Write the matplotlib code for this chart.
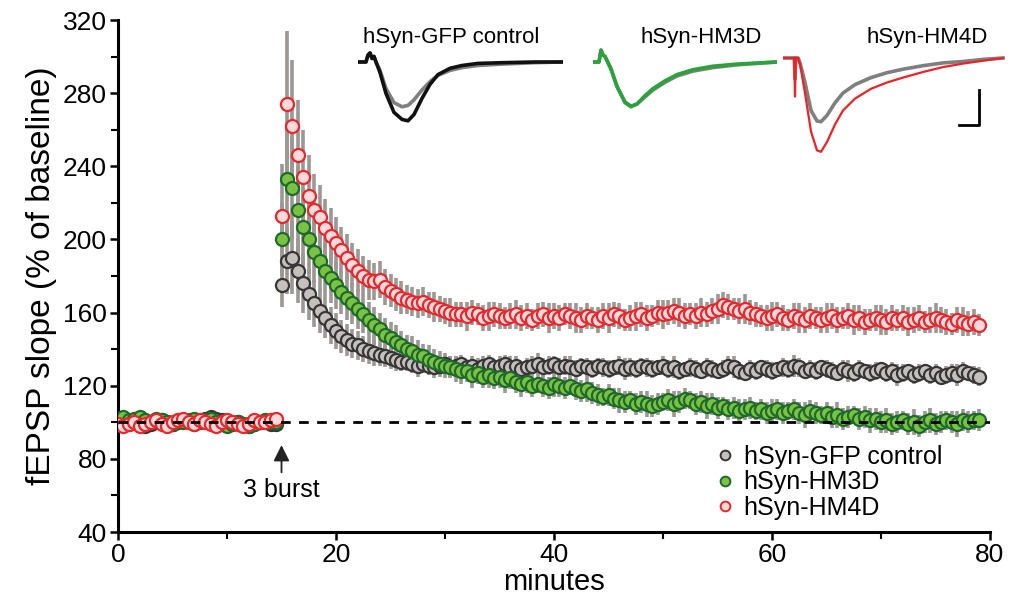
import matplotlib.pyplot as plt
import numpy as np
from matplotlib.lines import Line2D

plt.rcParams['font.family'] = ['Liberation Sans', 'DejaVu Sans']

# one sweep every 30 s, 0 - 79 min
minutes = np.arange(0, 79.5, 0.5)
baseline = 100

# hSyn-GFP control (% of baseline)
gfp_mean = [100, 101, 99, 100, 99, 98, 99, 100, 101, 100,
            99, 100, 101, 100, 99, 101, 102, 103, 102, 101,
            100, 99, 100, 99, 98, 99, 100, 100, 99, 99,
            175, 188, 190, 183, 176, 170, 165, 161, 157, 153,
            150, 147, 145, 143, 142, 140, 139, 138, 137, 136,
            135, 134, 133, 133, 132, 131, 132, 131, 130, 131,
            132, 130, 131, 132, 130, 131, 129, 131, 132, 130,
            131, 132, 130, 131, 129, 130, 131, 132, 130, 131,
            132, 130, 131, 130, 129, 131, 130, 129, 131, 130,
            129, 130, 131, 129, 130, 129, 131, 130, 129, 130,
            131, 129, 130, 128, 129, 130, 129, 128, 130, 129,
            128, 129, 131, 130, 128, 127, 129, 128, 130, 129,
            128, 129, 130, 129, 131, 130, 128, 129, 128, 130,
            129, 128, 127, 129, 128, 127, 129, 128, 127, 128,
            129, 127, 128, 126, 127, 128, 126, 127, 128, 126,
            127, 125, 126, 127, 126, 128, 127, 126, 125]
gfp_sem = [2, 2, 2, 2, 2, 2, 2, 2, 2, 2,
           2, 2, 2, 2, 2, 2, 2, 2, 2, 2,
           2, 2, 2, 2, 2, 2, 2, 2, 2, 2,
           12, 18, 20, 18, 16, 14, 13, 12, 11, 10,
           10, 9, 9, 8, 8, 7, 7, 7, 6, 6,
           6, 6, 5, 5, 5, 6, 5, 5, 6, 5,
           5, 6, 5, 5, 4, 5, 6, 5, 5, 4,
           5, 5, 6, 5, 4, 5, 5, 6, 5, 5,
           4, 5, 5, 6, 5, 4, 5, 5, 4, 5,
           5, 4, 5, 6, 5, 5, 4, 5, 5, 4,
           5, 5, 6, 5, 4, 5, 5, 4, 5, 5,
           4, 5, 5, 6, 5, 4, 5, 5, 4, 5,
           5, 4, 5, 5, 6, 5, 4, 5, 5, 4,
           5, 5, 4, 5, 6, 5, 5, 4, 5, 5,
           4, 5, 5, 6, 5, 4, 5, 5, 4, 5,
           5, 4, 5, 5, 6, 5, 4, 5, 5]

# hSyn-HM3D
hm3d_mean = [102, 103, 101, 102, 103, 101, 100, 102, 101, 100,
             99, 101, 100, 101, 102, 100, 101, 102, 100, 99,
             98, 99, 100, 99, 98, 99, 100, 101, 100, 100,
             200, 233, 228, 216, 207, 200, 193, 188, 183, 179,
             175, 171, 168, 165, 162, 159, 156, 153, 151, 148,
             146, 144, 142, 140, 139, 137, 136, 134, 133, 132,
             131, 130, 129, 128, 128, 126, 127, 125, 126, 124,
             125, 123, 124, 122, 121, 122, 120, 121, 120, 119,
             121, 120, 119, 120, 118, 117, 118, 116, 115, 114,
             115, 113, 112, 111, 112, 110, 111, 110, 109, 110,
             111, 112, 110, 111, 113, 112, 110, 111, 109, 110,
             108, 109, 107, 108, 106, 107, 108, 106, 107, 105,
             106, 107, 105, 106, 107, 105, 104, 106, 105, 104,
             105, 103, 104, 102, 103, 104, 102, 103, 101, 102,
             100, 101, 99, 100, 101, 99, 100, 98, 100, 101,
             99, 100, 101, 100, 99, 101, 100, 101, 101]
hm3d_sem = [2, 2, 2, 2, 2, 2, 2, 2, 2, 2,
            2, 2, 2, 2, 2, 2, 2, 2, 2, 2,
            2, 2, 2, 2, 2, 2, 2, 2, 2, 2,
            20, 30, 28, 24, 21, 19, 17, 16, 15, 14,
            13, 12, 12, 11, 11, 10, 10, 10, 9, 9,
            9, 9, 8, 8, 8, 8, 7, 8, 7, 7,
            7, 6, 7, 7, 6, 7, 6, 6, 7, 6,
            6, 7, 6, 6, 7, 6, 6, 5, 6, 6,
            7, 6, 6, 5, 6, 6, 7, 6, 6, 5,
            6, 6, 7, 6, 5, 6, 6, 7, 6, 6,
            5, 6, 7, 6, 6, 5, 6, 6, 7, 6,
            6, 5, 6, 6, 7, 6, 6, 5, 6, 6,
            7, 6, 6, 5, 6, 6, 7, 6, 6, 5,
            6, 6, 7, 6, 6, 5, 6, 6, 7, 6,
            6, 7, 6, 6, 5, 6, 7, 6, 6, 7,
            6, 6, 5, 6, 7, 6, 6, 5, 6]

# hSyn-HM4D
hm4d_mean = [99, 98, 99, 100, 98, 99, 100, 101, 99, 98,
             100, 101, 102, 100, 99, 101, 100, 99, 98, 100,
             101, 100, 99, 98, 99, 101, 100, 100, 101, 102,
             213, 274, 262, 246, 234, 224, 216, 212, 206, 202,
             198, 194, 190, 186, 183, 180, 178, 177, 178, 174,
             172, 170, 168, 167, 166, 165, 166, 164, 163, 162,
             161, 160, 159, 159, 158, 160, 159, 157, 158, 159,
             158, 157, 158, 159, 157, 158, 156, 158, 159, 157,
             158, 157, 159, 158, 157, 156, 158, 157, 156, 158,
             157, 159, 158, 156, 157, 158, 159, 157, 158, 160,
             159, 160, 161, 160, 158, 159, 158, 160, 159, 161,
             162, 164, 163, 162, 161, 162, 160, 159, 158, 157,
             158, 159, 157, 156, 158, 157, 156, 158, 157, 156,
             157, 158, 156, 157, 158, 156, 157, 155, 156, 157,
             156, 155, 157, 156, 157, 155, 156, 157, 155, 156,
             157, 156, 155, 154, 156, 155, 154, 155, 153]
hm4d_sem = [2, 2, 2, 2, 2, 2, 2, 2, 2, 2,
            2, 2, 2, 2, 2, 2, 2, 2, 2, 2,
            2, 2, 2, 2, 2, 2, 2, 2, 2, 2,
            28, 40, 36, 30, 26, 22, 20, 18, 16, 15,
            14, 13, 13, 12, 12, 11, 11, 10, 10, 10,
            9, 9, 9, 8, 8, 8, 8, 7, 8, 7,
            7, 8, 7, 7, 8, 7, 6, 7, 8, 7,
            7, 6, 7, 8, 7, 7, 6, 7, 7, 8,
            7, 7, 6, 7, 8, 7, 7, 6, 7, 7,
            8, 7, 7, 6, 7, 8, 7, 7, 6, 7,
            8, 7, 7, 8, 7, 6, 7, 8, 7, 7,
            8, 7, 7, 6, 7, 8, 7, 7, 6, 7,
            8, 7, 7, 6, 7, 8, 7, 7, 6, 7,
            8, 7, 7, 6, 7, 8, 7, 7, 6, 7,
            8, 7, 7, 6, 7, 8, 7, 7, 6, 7,
            8, 7, 7, 6, 7, 8, 7, 7, 6]

# example fEPSP traces (ms, mV)
gfp_t = [0, 2, 2.5, 3, 3.5, 4, 4.5, 5.5, 7, 9, 11, 12.5, 14, 16, 18, 20, 23, 26, 30, 36, 44, 51]
gfp_pre = [0, 0, 0.1, 0.13, 0.05, 0.08, 0, -0.12, -0.38, -0.58, -0.64, -0.62, -0.54, -0.40,
           -0.28, -0.19, -0.12, -0.08, -0.05, -0.03, -0.01, 0]
gfp_post = [0, 0, 0.1, 0.13, 0.05, 0.08, 0, -0.15, -0.45, -0.72, -0.82, -0.84, -0.75, -0.52,
            -0.32, -0.18, -0.09, -0.05, -0.02, -0.01, 0, 0]
hm3d_t = [0, 1.5, 2, 2.5, 3, 3.5, 4.5, 6, 8, 9.5, 11, 13, 15, 18, 21, 25, 30, 36, 46]
hm3d_pre = [0, 0, 0.17, 0.1, 0.08, 0.02, -0.1, -0.35, -0.57, -0.63, -0.60, -0.50, -0.40,
            -0.29, -0.20, -0.13, -0.08, -0.04, 0]
hm3d_post = [0, 0, 0.17, 0.1, 0.08, 0.02, -0.1, -0.35, -0.58, -0.64, -0.60, -0.48, -0.38,
             -0.27, -0.18, -0.11, -0.06, -0.03, 0]
hm4d_t = [0, 2.8, 3.0, 3.2, 3.8, 4.3, 5.5, 7, 8.5, 9.5, 11, 13, 15, 18, 22, 26, 30, 35, 40, 45, 50, 55]
hm4d_pre = [0, 0, -0.3, 0, 0, -0.08, -0.35, -0.75, -0.9, -0.91, -0.82, -0.64, -0.5, -0.38,
            -0.28, -0.21, -0.16, -0.11, -0.07, -0.05, -0.02, 0]
hm4d_post = [0, 0, -0.55, 0, 0, -0.1, -0.5, -1.05, -1.32, -1.34, -1.2, -0.95, -0.75, -0.58,
             -0.44, -0.35, -0.28, -0.2, -0.13, -0.08, -0.04, 0]

groups = [
    ('hSyn-GFP control', gfp_mean, gfp_sem, '#c6c0bd', '#363636'),
    ('hSyn-HM3D', hm3d_mean, hm3d_sem, '#7cc242', '#1d6a2c'),
    ('hSyn-HM4D', hm4d_mean, hm4d_sem, '#fadadb', '#e8262b'),
]

fig = plt.figure(figsize=(10.16, 6.02), dpi=100)
ax = fig.add_axes([118 / 1016, 1 - 532 / 602, 872 / 1016, 512 / 602])

for name, mean, sem, face, edge in groups:
    ax.errorbar(minutes, mean, yerr=sem, fmt='none', ecolor='#9d9794',
                elinewidth=2.6, capsize=0, zorder=1)
for i, (name, mean, sem, face, edge) in enumerate(groups):
    ax.plot(minutes, mean, 'o', ms=9.4, mfc=face, mec=edge, mew=1.6, zorder=2 + i)

ax.axhline(baseline, color='black', lw=2, ls=(0, (3.5, 3)), zorder=6)

ax.annotate('3 burst', xy=(15, 87.5), xytext=(15, 63), ha='center', va='center',
            fontsize=18,
            arrowprops=dict(arrowstyle='-|>', color='#222222', lw=1.3,
                            mutation_scale=24, shrinkA=2, shrinkB=0))

ax.set_xlim(0, 80)
ax.set_ylim(40, 320)
ax.set_xticks([0, 20, 40, 60, 80])
ax.set_xticks([10, 30, 50, 70], minor=True)
ax.set_yticks(np.arange(40, 321, 40))
ax.set_yticks(np.arange(60, 320, 40), minor=True)
ax.tick_params(which='major', length=6, width=1.8, labelsize=19, direction='out', pad=2)
ax.tick_params(which='minor', length=5, width=1.5, direction='out')
for s in ['top', 'right']:
    ax.spines[s].set_visible(False)
for s in ['left', 'bottom']:
    ax.spines[s].set_linewidth(2.2)
ax.set_xlabel('minutes', fontsize=21, labelpad=1)
ax.set_ylabel('fEPSP slope (% of baseline)', fontsize=24, labelpad=4)

handles = [Line2D([], [], ls='none', marker='o', ms=7, mfc=face, mec=edge, mew=1.4)
           for name, mean, sem, face, edge in groups]
fig.legend(handles, [g[0] for g in groups], loc='upper left',
           bbox_to_anchor=(716 / 1016, 1 - 445 / 602), frameon=False, fontsize=18,
           handlelength=0.7, handletextpad=0.4, labelspacing=0.05, borderpad=0,
           borderaxespad=0)

# inset traces
insets = [
    ('hSyn-GFP control', 358, 205, 62, gfp_t, gfp_pre, gfp_post, '#111111', 2.6, 363),
    ('hSyn-HM3D', 593, 184, 62, hm3d_t, hm3d_pre, hm3d_post, '#2aa43a', 2.6, 640),
    ('hSyn-HM4D', 783, 222, 58, hm4d_t, hm4d_pre, hm4d_post, '#ec2227', 1.6, 866),
]
px_per_ms = 4.0
px_per_mv = 70.0
for title, x0, w, base_px, tt, pre, post, col, lw, tx in insets:
    iax = fig.add_axes([x0 / 1016, 1 - 160 / 602, w / 1016, 135 / 602])
    iax.plot(tt, pre, color='#7f7f7f', lw=2.6)
    iax.plot(tt, post, color=col, lw=lw)
    iax.set_xlim(0, w / px_per_ms)
    iax.set_ylim(-(160 - base_px) / px_per_mv, (base_px - 25) / px_per_mv)
    iax.axis('off')
    fig.text(tx / 1016, 1 - 38 / 602, title, fontsize=16, va='center', ha='left')
    if title == 'hSyn-HM4D':
        # scale bar 5 ms / 0.5 mV
        bx = w / px_per_ms - 6.5
        by = -0.96
        iax.plot([bx - 5, bx, bx], [by, by, by + 0.5], color='black', lw=2)

fig.savefig('out.png', dpi=100)
